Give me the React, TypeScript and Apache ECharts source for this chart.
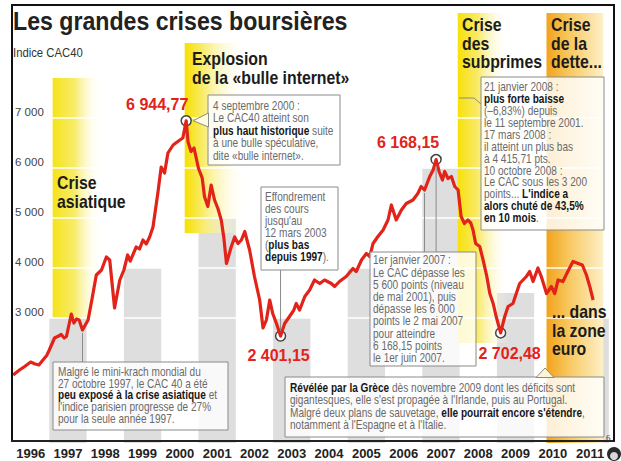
import React, { useEffect, useRef } from 'react';
import * as echarts from 'echarts';

// ---- data (decimal years, CAC40 index) ----
const dates = [
  1996.03, 1996.2, 1996.34, 1996.5, 1996.62, 1996.72, 1996.83, 1996.93, 1997.0, 1997.14,
  1997.25, 1997.32, 1997.4, 1997.46, 1997.59, 1997.66, 1997.73, 1997.8, 1997.89, 1998.04,
  1998.15, 1998.26, 1998.4, 1998.53, 1998.62, 1998.75, 1998.89, 1999.0, 1999.1, 1999.17,
  1999.33, 1999.42, 1999.51, 1999.6, 1999.69, 1999.78, 1999.91, 2000.0, 2000.09, 2000.18,
  2000.32, 2000.5, 2000.58, 2000.67, 2000.72, 2000.8, 2000.88, 2001.0, 2001.1, 2001.16,
  2001.25, 2001.34, 2001.43, 2001.52, 2001.61, 2001.68, 2001.75, 2001.88, 2001.97, 2002.06,
  2002.15, 2002.24, 2002.37, 2002.5, 2002.64, 2002.73, 2002.82, 2002.91, 2002.99, 2003.09,
  2003.2, 2003.31, 2003.44, 2003.55, 2003.62, 2003.71, 2003.85, 2003.98, 2004.11, 2004.25,
  2004.38, 2004.56, 2004.65, 2004.78, 2004.96, 2005.14, 2005.23, 2005.37, 2005.5, 2005.59,
  2005.68, 2005.81, 2005.95, 2006.08, 2006.17, 2006.3, 2006.44, 2006.57, 2006.75, 2006.88,
  2006.97, 2007.06, 2007.2, 2007.29, 2007.37, 2007.45, 2007.54, 2007.6, 2007.69, 2007.78,
  2007.87, 2007.96, 2008.04, 2008.13, 2008.22, 2008.3, 2008.36, 2008.43, 2008.54, 2008.63,
  2008.73, 2008.81, 2008.9, 2008.98, 2009.1, 2009.21, 2009.3, 2009.43, 2009.52, 2009.61,
  2009.7, 2009.79, 2009.88, 2009.97, 2010.1, 2010.19, 2010.33, 2010.46, 2010.55, 2010.64,
  2010.77, 2010.9, 2011.04, 2011.18, 2011.29, 2011.4, 2011.49, 2011.58,
];
const values = [
  1860, 1960, 2030, 2120, 2080, 2060, 2160, 2250, 2360, 2600,
  2640, 2670, 2600, 2630, 3080, 2900, 2980, 2960, 2760, 2960,
  3400, 3860, 3960, 4220, 4160, 3200, 3760, 3960, 4260, 4140,
  4420, 4380, 4560, 4480, 4620, 4820, 5500, 6020, 5900, 6300,
  6460, 6560, 6600, 6944.77, 6520, 6330, 6400, 5990, 5800, 5430,
  5230, 5660, 5360, 5190, 4960, 4600, 4090, 4430, 4620, 4490,
  4560, 4730, 4360, 3830, 3360, 2800, 2960, 3360, 3090, 2890,
  2640, 2890, 3030, 3150, 3290, 3160, 3430, 3560, 3760, 3690,
  3760, 3690, 3630, 3730, 3830, 3990, 3930, 4160, 4290, 4230,
  4490, 4630, 4760, 4960, 5260, 4960, 5160, 5290, 5360, 5490,
  5630, 5560, 5830, 5960, 6168.15, 5930, 5760, 5930, 5790, 5830,
  5630, 5560, 5030, 4890, 4960, 4900, 4760, 4490, 4430, 4160,
  3830, 3490, 3290, 3030, 2702.48, 3030, 3230, 3290, 3490, 3690,
  3760, 3830, 3930, 3730, 4000, 3830, 3490, 3630, 3490, 3760,
  3730, 3930, 4130, 4090, 4060, 3860, 3630, 3360,
];

const yearLabels = ['1996', '1997', '1998', '1999', '2000', '2001', '2002', '2003', '2004', '2005', '2006', '2007', '2008', '2009', '2010', '2011'];
const yTickValues = [3000, 4000, 5000, 6000, 7000];

const greyBandYears = [1997, 1999, 2001, 2003, 2005, 2007, 2009, 2011];
const greyBandTops = [3000, 4000, 5000, 3000, 4000, 6000, 3500, 3000];

const crisisStarts = [1997.09, 2000.63, 2007.95, 2010.33];
const crisisEnds = [1998.4, 2002.3, 2009.3, 2011.85];
const crisisBottoms = [3000, 4700, 2500, 500];
const crisisTops = [7800, 8500, 9100, 9100];

const extremeDates = [2000.67, 2003.2, 2007.37, 2009.1];
const extremeValues = [6944.77, 2640, 6168.15, 2702.48];
const extremeLabels = ['6 944,77', '2 401,15', '6 168,15', '2 702,48'];

// anchors for annotation pointers (dates on the curve)
const pointerDates = [1997.89, 2007.06, 2007.37];

const FONT = "'Liberation Sans', Arial, sans-serif";
const RED = '#e2231a';

const fmt = (v: number) => String(v).replace(/\B(?=(\d{3})+(?!\d))/g, ' ');

function nearestIdx(d: number) {
  let best = 0;
  for (let i = 0; i < dates.length; i++) if (Math.abs(dates[i] - d) < Math.abs(dates[best] - d)) best = i;
  return best;
}

export default function App() {
  const ref = useRef<HTMLDivElement>(null);
  useEffect(() => {
    const chart = echarts.init(ref.current!, null, { renderer: 'svg' });
    const lineData = dates.map((d, i) => [d, values[i]]);
    const bandGrad = (stops: [number, string][]) => ({
      type: 'linear', x: 0, y: 0, x2: 1, y2: 0, global: false,
      colorStops: stops.map(([offset, color]) => ({ offset, color })),
    });
    const crisisColors = [
      bandGrad([[0, '#f5e31a'], [0.45, '#f8ec6a'], [1, 'rgba(255,255,255,0)']]),
      bandGrad([[0, '#f6e000'], [0.3, '#f9ec70'], [1, 'rgba(255,255,255,0)']]),
      bandGrad([[0, '#f7e10a'], [0.4, '#f9ea6a'], [1, 'rgba(255,255,255,0)']]),
      bandGrad([[0, '#f2a31b'], [0.4, '#f8c860'], [1, '#fdf0c8']]),
    ];
    const markLabelPos: any[] = [
      { position: 'top', offset: [-29, 1] },
      { position: 'bottom', offset: [-2, 2] },
      { position: 'top', offset: [-28, 1] },
      { position: 'bottom', offset: [9, 3] },
    ];
    const option: any = {
      animation: false,
      grid: { left: 12, right: 12.2, top: 5, bottom: 18 },
      xAxis: [
        { type: 'value', min: 1996, max: 2012, show: false, position: 'top', splitLine: { show: false } },
        {
          type: 'category', data: yearLabels, position: 'bottom', boundaryGap: true,
          axisLine: { show: false }, axisTick: { show: false },
          axisLabel: { color: '#222', fontWeight: 'bold', fontSize: 13, fontFamily: FONT, margin: 4, interval: 0 },
        },
      ],
      yAxis: {
        type: 'value', min: 500, max: 9260, interval: 500,
        axisLine: { show: false }, axisTick: { show: false }, splitLine: { show: false },
        axisLabel: {
          inside: true, margin: 3, verticalAlign: 'bottom', color: '#444', fontSize: 11.5, fontFamily: FONT,
          formatter: (v: number) => (yTickValues.includes(v) ? fmt(v) : ''),
        },
      },
      series: [
        {
          type: 'line', xAxisIndex: 0, data: lineData, showSymbol: false, silent: true, z: 1,
          lineStyle: { opacity: 0, width: 0 },
          markArea: {
            silent: true,
            itemStyle: { color: '#dedede' },
            data: greyBandYears.map((y, i) => [{ xAxis: y, yAxis: 500 }, { xAxis: y + 1, yAxis: greyBandTops[i] }]),
          },
        },
        {
          type: 'line', xAxisIndex: 0, data: lineData, showSymbol: false, silent: true, z: 2,
          lineStyle: { opacity: 0, width: 0 },
          markLine: {
            silent: true, symbol: ['none', 'none'], label: { show: false },
            lineStyle: { color: '#ffffff', width: 1.5, type: 'solid' },
            data: yTickValues.map((v) => ({ yAxis: v })),
          },
        },
        {
          type: 'line', xAxisIndex: 0, data: lineData, showSymbol: false, silent: true, z: 3,
          lineStyle: { opacity: 0, width: 0 },
          markArea: {
            silent: true,
            data: crisisStarts.map((s, i) => [
              { xAxis: s, yAxis: crisisBottoms[i], itemStyle: { color: crisisColors[i] } },
              { xAxis: crisisEnds[i], yAxis: crisisTops[i] },
            ]),
          },
        },
        {
          type: 'line', xAxisIndex: 0, data: lineData, showSymbol: false, z: 5,
          lineStyle: { color: RED, width: 3.2, join: 'round' },
          markPoint: {
            symbol: 'circle', symbolSize: 10,
            itemStyle: { color: '#ffffff', borderColor: '#444', borderWidth: 1.5 },
            data: extremeDates.map((d, i) => ({
              coord: [d, extremeValues[i]],
              value: extremeValues[i],
              label: {
                show: true, formatter: extremeLabels[i], color: RED, fontWeight: 'bold', fontSize: 16,
                fontFamily: FONT, distance: 4, ...markLabelPos[i],
              },
            })),
          },
        },
      ],
    };
    chart.setOption(option);

    const px = (d: number, v: number) => chart.convertToPixel({ xAxisIndex: 0, yAxisIndex: 0 }, [d, v]) as number[];
    const anchors = pointerDates.map((d) => {
      const i = nearestIdx(d);
      return px(dates[i], values[i]);
    });
    const ext = extremeDates.map((d, i) => px(d, extremeValues[i]));

    const heading = (x: number, y: number, text: string) => ({
      type: 'text', x, y, z: 50, scaleX: 0.88,
      style: { text, fill: '#1c1c1c', font: `bold 18px ${FONT}`, lineHeight: 18.5, verticalAlign: 'top' },
    });
    const boxStroke = '#8a8a8a';
    const box = (x: number, y: number, w: number, h: number) => ({
      type: 'rect', z: 40, shape: { x, y, width: w, height: h },
      style: { fill: 'rgba(255,255,255,0.82)', stroke: boxStroke, lineWidth: 1 },
    });
    const note = (x: number, y: number, text: string, lh: number) => ({
      type: 'text', x, y, z: 45, scaleX: 0.84,
      style: {
        text, fill: '#6a6a6a', fontSize: 12, fontFamily: FONT, lineHeight: lh, verticalAlign: 'top',
        rich: { b: { fill: '#161616', fontSize: 12, fontFamily: FONT, fontWeight: 'bold', lineHeight: lh } },
      },
    });
    const vline = (x: number, y1: number, y2: number) => ({
      type: 'line', z: 41, shape: { x1: x, y1, x2: x, y2 }, style: { stroke: boxStroke, lineWidth: 1 },
    });

    const graphic: any[] = [
      // titles
      { type: 'text', x: 13, y: 8, z: 50, scaleX: 0.89, style: { text: 'Les grandes crises boursières', fill: '#222', font: `bold 26px ${FONT}`, verticalAlign: 'top' } },
      { type: 'text', x: 13, y: 46, z: 50, scaleX: 0.87, style: { text: 'Indice CAC40', fill: '#333', font: `13px ${FONT}`, verticalAlign: 'top' } },
      heading(57, 174, 'Crise\nasiatique'),
      heading(192, 50, 'Explosion\nde la «bulle internet»'),
      heading(462, 16, 'Crise\ndes\nsubprimes'),
      heading(551, 16, 'Crise\nde la\ndette...'),
      heading(552, 303, '... dans\nla zone\neuro'),

      // box 1 : 4 septembre 2000
      box(208, 95, 132, 70),
      { type: 'polygon', z: 42, shape: { points: [[208.5, 113], [ext[0][0] + 7, ext[0][1]], [208.5, 127]] }, style: { fill: '#fffbe0', stroke: boxStroke, lineWidth: 1 } },
      note(213, 99, '4 septembre 2000 :\nLe CAC40 atteint son\n{b|plus haut historique} suite\nà une bulle spéculative,\ndite «bulle internet».', 12.5),

      // box 2 : 12 mars 2003
      box(261, 187, 77, 83),
      vline(ext[1][0], 270, ext[1][1] - 5),
      note(265, 191, "Effondrement\ndes cours\njusqu'au\n12 mars 2003\n({b|plus bas}\n{b|depuis 1997}).", 12),

      // box 3 : 2007
      box(370, 252, 106, 114),
      vline(anchors[1][0], 252, anchors[1][1] + 3),
      vline(anchors[2][0], 252, anchors[2][1] + 6),
      note(373, 254, "1er janvier 2007 :\nLe CAC dépasse les\n5 600 points (niveau\nde mai 2001), puis\ndépasse les 6 000\npoints le 2 mai 2007\npour atteindre\n6 168,15 points\nle 1er juin 2007.", 12.2),

      // box 4 : 2008
      box(481, 77, 123, 153),
      { type: 'polyline', z: 41, shape: { points: [[459, 98], [474, 98], [481, 104]] }, style: { stroke: boxStroke, lineWidth: 1, fill: 'none' } },
      note(484, 81, "21 janvier 2008 :\n{b|plus forte baisse}\n(–6,83%) depuis\nle 11 septembre 2001.\n17 mars 2008 :\nil atteint un plus bas\nà 4 415,71 pts.\n10 octobre 2008 :\nLe CAC sous les 3 200\npoints... {b|L'indice a}\n{b|alors chuté de 43,5%}\n{b|en 10 mois}.", 11.9),

      // box 5 : 1997
      box(53, 362, 175, 68),
      vline(anchors[0][0], 362, anchors[0][1] + 3),
      note(58, 366, "Malgré le mini-krach mondial du\n27 octobre 1997, le CAC 40 a été\n{b|peu exposé à la crise asiatique} et\nl'indice parisien progresse de 27%\npour la seule année 1997.", 11.6),

      // box 6 : dette
      box(285, 377, 319, 60),
      { type: 'polygon', z: 42, shape: { points: [[536, 377.5], [545, 368], [554, 377.5]] }, style: { fill: '#fdf3d6', stroke: boxStroke, lineWidth: 1 } },
      note(290, 381, "{b|Révélée par la Grèce} dès novembre 2009 dont les déficits sont\ngigantesques, elle s'est propagée à l'Irlande, puis au Portugal.\nMalgré deux plans de sauvetage, {b|elle pourrait encore s'étendre},\nnotamment à l'Espagne et à l'Italie.", 12.5),

      // frame
      { type: 'line', z: 60, shape: { x1: 12, y1: 5, x2: 12, y2: 441 }, style: { stroke: '#111', lineWidth: 2 } },
      { type: 'line', z: 60, shape: { x1: 11, y1: 5, x2: 615, y2: 5 }, style: { stroke: '#111', lineWidth: 2 } },
      { type: 'line', z: 60, shape: { x1: 11, y1: 441, x2: 615, y2: 441 }, style: { stroke: '#222', lineWidth: 2 } },
      { type: 'line', z: 60, shape: { x1: 614, y1: 5, x2: 614, y2: 441 }, style: { stroke: '#111', lineWidth: 2 } },

      // page mark and logo
      { type: 'text', x: 606, y: 433, z: 60, style: { text: '6', fill: '#333', font: '9px serif' } },
      { type: 'circle', z: 60, shape: { cx: 614, cy: 454, r: 7 }, style: { fill: '#2b2b2b' } },
      { type: 'circle', z: 61, shape: { cx: 614, cy: 456, r: 4 }, style: { fill: '#d8d8d8' } },
    ];
    chart.setOption({ graphic });
    return () => chart.dispose();
  }, []);
  return (
    <div
      ref={ref}
      style={{ position: 'absolute', left: 0, top: 0, width: 621, height: 461, background: '#ffffff' }}
    />
  );
}
